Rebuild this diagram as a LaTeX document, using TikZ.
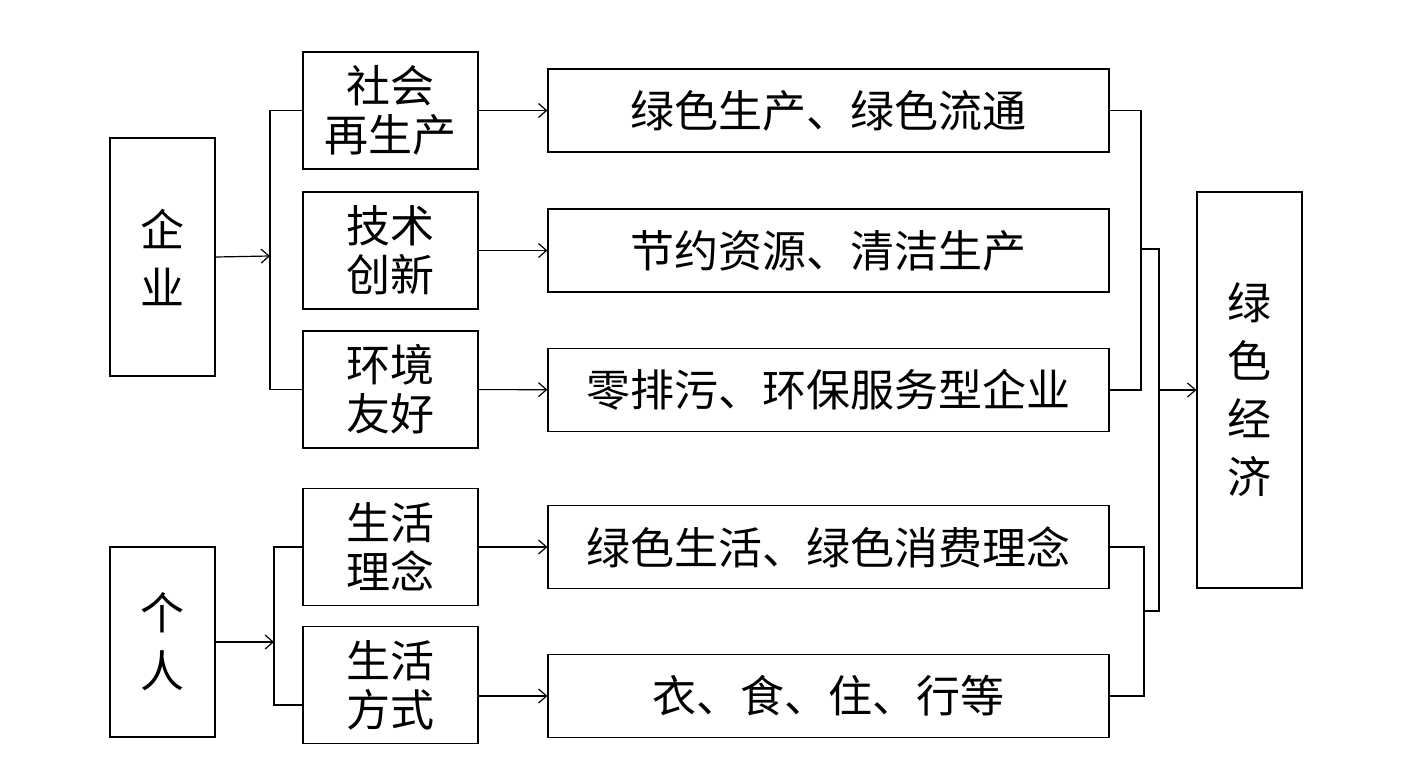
\documentclass[tikz,border=0pt]{standalone}
\usepackage{fontspec}
\setmainfont{Noto Sans CJK SC}
\usetikzlibrary{arrows.meta}

\begin{document}
\begin{tikzpicture}[x=0.5pt, y=-0.5pt, line width=0.6pt,
  every node/.style={font=\fontsize{22}{24.5}\selectfont, align=center, inner sep=0pt},
  mainbox/.style={draw, minimum width=52.5pt, font=\fontsize{22}{29}\selectfont},
  midbox/.style={draw, minimum width=87.5pt, minimum height=58.5pt},
  endbox/.style={draw, minimum width=280.5pt, minimum height=41.5pt},
  >={Straight Barb[length=4pt,width=7pt]}]
\useasboundingbox (0,0) rectangle (1421,771);
\node[mainbox, minimum height=119pt] (qiye) at (162.5,257) {企\\业};
\node[mainbox, minimum height=95pt] (geren) at (162.5,642) {个\\人};
\node[midbox] (shehui) at (390.5,110.5) {社会\\再生产};
\node[midbox] (jishu) at (390.5,250.5) {技术\\创新};
\node[midbox] (huanjing) at (390.5,389.5) {环境\\友好};
\node[midbox] (linian) at (390.5,547) {生活\\理念};
\node[midbox] (fangshi) at (390.5,685) {生活\\方式};
\node[endbox] (shengchan) at (828.5,110.5) {绿色生产、绿色流通};
\node[endbox] (jieyue) at (828.5,250.5) {节约资源、清洁生产};
\node[endbox] (wuran) at (828.5,390) {零排污、环保服务型企业};
\node[endbox] (xiaofei) at (828.5,547) {绿色生活、绿色消费理念};
\node[endbox] (yishi) at (828.5,696) {衣、食、住、行等};
\node[mainbox, minimum height=198pt] (jingji) at (1249.5,390) {绿\\色\\经\\济};
\coordinate (qj) at (270,256);
\coordinate (gj) at (274,642);
\coordinate (topj) at (1141,249);
\coordinate (botj) at (1144,611);
\coordinate (hub) at (1159,390);
\draw[->] (qiye.east) -- (qj);
\draw (shehui.west) -| (qj) |- (huanjing.west);
\draw[->] (geren.east) -- (gj);
\draw (linian.west) -| (gj) |- ([yshift=-10pt]fangshi.west);
\draw[->] (shehui) -- (shengchan);
\draw[->] (jishu) -- (jieyue);
\draw[->] (huanjing) -- (wuran);
\draw[->] (linian) -- (xiaofei);
\draw[->] (fangshi.east |- yishi.west) -- (yishi.west);
\draw (shengchan.east) -| (topj) |- (wuran.east);
\draw (xiaofei.east) -| (botj) |- (yishi.east);
\draw (topj) -| (hub) |- (botj);
\draw[->] (hub) -- (jingji);
\end{tikzpicture}
\end{document}
